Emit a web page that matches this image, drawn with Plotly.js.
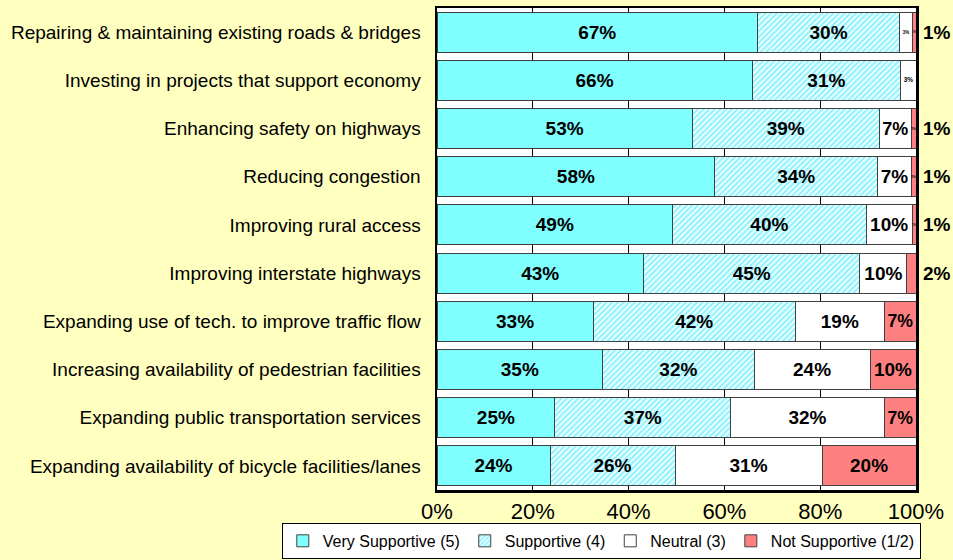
<!DOCTYPE html>
<html><head><meta charset="utf-8">
<script src="https://cdn.plot.ly/plotly-3.0.1.min.js"></script>
<style>html,body{margin:0;padding:0;background:#FFFFC0;}</style>
</head><body>
<div id="chart" style="width:953px;height:560px;"></div>
<script>
const categories = [
  "Repairing & maintaining existing roads & bridges",
  "Investing in projects that support economy",
  "Enhancing safety on highways",
  "Reducing congestion",
  "Improving rural access",
  "Improving interstate highways",
  "Expanding use of tech. to improve traffic flow",
  "Increasing availability of pedestrian facilities",
  "Expanding public transportation services",
  "Expanding availability of bicycle facilities/lanes"
];
const verySupportive = [66.9, 65.8, 53.3, 58.0, 49.2, 43.1, 32.6, 34.6, 24.6, 23.6];
const supportive     = [29.7, 31.0, 39.0, 34.0, 40.4, 45.2, 42.2, 31.6, 36.7, 26.1];
const neutral        = [2.6, 3.2, 6.7, 7.0, 9.6, 9.8, 18.6, 24.2, 32.1, 30.7];
const notSupportive  = [0.8, 0.0, 1.0, 1.0, 0.8, 1.9, 6.6, 9.6, 6.6, 19.6];
const seriesNames = ["Very Supportive (5)", "Supportive (4)", "Neutral (3)", "Not Supportive (1/2)"];
const xTicks = [0, 20, 40, 60, 80, 100];

const FONT = "Liberation Sans, Arial, sans-serif";
const lbl = v => v > 0 ? Math.round(v) + "%" : "";
const line = {color: "#404040", width: 1};
const tfont = {family: FONT, size: 19, color: "#000", weight: "bold"};

function tr(name, vals, marker) {
  return {
    type: "bar", orientation: "h", name: name,
    y: categories, x: vals,
    text: vals.map(lbl),
    textposition: "inside",
    insidetextanchor: "middle",
    textangle: 0,
    textfont: tfont, insidetextfont: tfont,
    constraintext: "inside",
    cliponaxis: false,
    marker: marker,
    hoverinfo: "skip"
  };
}

const data = [
  tr(seriesNames[0], verySupportive, {color: "#80FFFF", line: line}),
  tr(seriesNames[1], supportive, {color: "#E6FFFF", line: line,
     pattern: {shape: "/", fgcolor: "#80F0FF", bgcolor: "#E8FFFF", size: 4, solidity: 0.4}}),
  tr(seriesNames[2], neutral, {color: "#FFFFFF", line: line}),
  tr(seriesNames[3], notSupportive, {color: "#FF8080", line: line})
];

// small "Not Supportive" values are also labelled outside the bar end
const annotations = [];
categories.forEach((c, i) => {
  const v = notSupportive[i];
  if (v > 0 && v < 3) {
    annotations.push({
      xref: "paper", x: 1, yref: "y", y: c,
      text: lbl(v), showarrow: false, xanchor: "left", xshift: 5,
      font: tfont
    });
  }
});

const layout = {
  width: 953, height: 560,
  paper_bgcolor: "#FFFFC0", plot_bgcolor: "#FFFFFF",
  margin: {l: 437, r: 37, t: 8, b: 70, autoexpand: false},
  barmode: "stack", bargap: 0.17,
  font: {family: FONT, color: "#000"},
  xaxis: {
    range: [0, 100], tickvals: xTicks, ticktext: xTicks.map(v => v + "%"),
    showgrid: true, gridcolor: "#000", gridwidth: 1,
    showline: true, mirror: true, linecolor: "#000", linewidth: 2.5,
    zeroline: false, ticks: "", ticklabelstandoff: 0, tickfont: {size: 22}, fixedrange: true
  },
  yaxis: {
    autorange: "reversed", showgrid: false,
    showline: true, mirror: true, linecolor: "#000", linewidth: 2.5,
    ticks: "", ticklabelstandoff: 10, tickfont: {size: 19}, fixedrange: true
  },
  annotations: annotations,
  showlegend: true,
  legend: {
    orientation: "h", x: -0.324, xanchor: "left", y: -0.143, yanchor: "bottom",
    bgcolor: "#FFFFFF", bordercolor: "#000", borderwidth: 1,
    font: {size: 16}, traceorder: "normal", itemwidth: 30,
    tracegroupgap: 0
  }
};

Plotly.newPlot("chart", data, layout, {displayModeBar: false, staticPlot: true});
</script>
</body></html>
